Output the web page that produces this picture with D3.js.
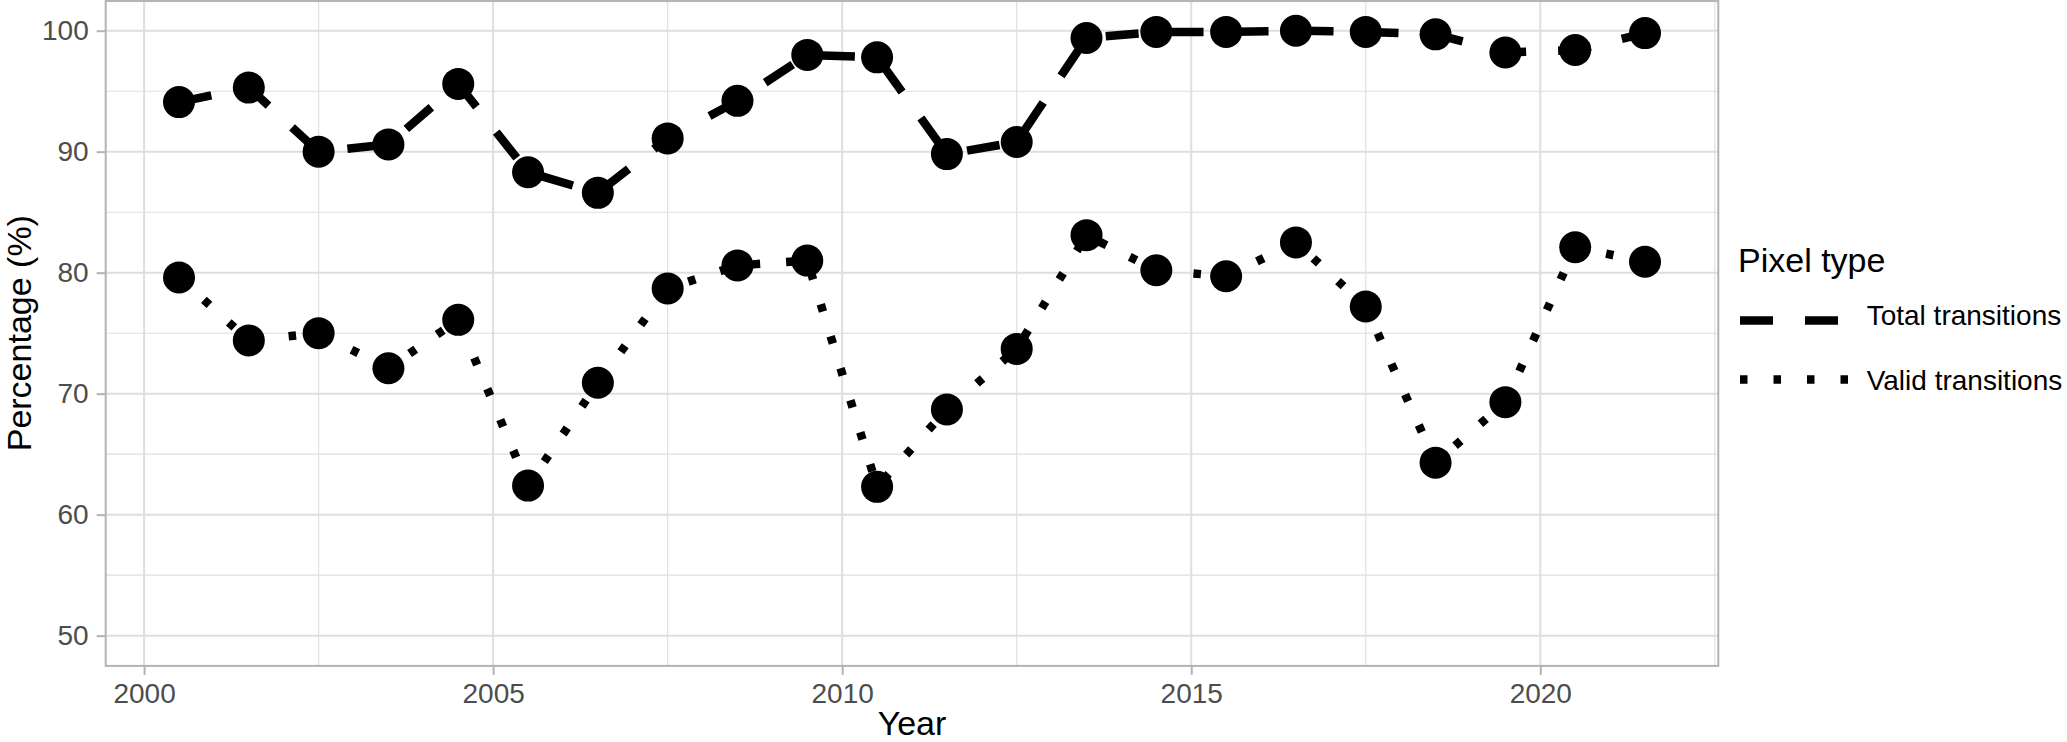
<!DOCTYPE html>
<html>
<head>
<meta charset="utf-8">
<script src="https://cdn.jsdelivr.net/npm/d3@7"></script>
<style>
  html, body { margin: 0; padding: 0; background: #fff; }
  svg { display: block; }
  text { font-family: "Liberation Sans", Arial, sans-serif; }
</style>
</head>
<body>
<svg id="chart" width="2067" height="742"></svg>
<script>
// ---- data ----
const years = [2000.5, 2001.5, 2002.5, 2003.5, 2004.5, 2005.5, 2006.5, 2007.5, 2008.5, 2009.5, 2010.5,
               2011.5, 2012.5, 2013.5, 2014.5, 2015.5, 2016.5, 2017.5, 2018.5, 2019.5, 2020.5, 2021.5];
const totalTransitions = [94.1, 95.3, 90.0, 90.6, 95.6, 88.3, 86.6, 91.1, 94.2, 98.0, 97.8,
                          89.8, 90.8, 99.4, 99.9, 99.9, 100.0, 99.9, 99.7, 98.2, 98.4, 99.8];
const validTransitions = [79.6, 74.4, 75.0, 72.1, 76.1, 62.4, 70.9, 78.7, 80.6, 81.0, 62.3,
                          68.7, 73.7, 83.1, 80.2, 79.7, 82.5, 77.2, 64.3, 69.3, 82.1, 80.9];
const seriesNames = ["Total transitions", "Valid transitions"];
const xTicks = [2000, 2005, 2010, 2015, 2020];
const yTicks = [50, 60, 70, 80, 90, 100];
const xMinor = [2002.5, 2007.5, 2012.5, 2017.5, 2022.5];
const yMinor = [55, 65, 75, 85, 95];
const xTitle = "Year";
const yTitle = "Percentage (%)";
const legendTitle = "Pixel type";

// ---- layout ----
const panel = { left: 105.7, right: 1718.3, top: 0.45, bottom: 665.9 };
const svg = d3.select("#chart");
svg.append("rect").attr("width", 2067).attr("height", 742).attr("fill", "#fff");

const xMin = d3.min(years), xMax = d3.max(years);
const xPad = (xMax - xMin) * 0.05;
const x = d3.scaleLinear().domain([xMin - xPad, xMax + xPad]).range([panel.left, panel.right]);
const y = d3.scaleLinear().domain([47.5, 102.5]).range([panel.bottom, panel.top]);

const gridCol = "#DEDEDE";
const g = svg.append("g");

// minor grid
g.selectAll(".ymin").data(yMinor).join("line")
  .attr("x1", panel.left).attr("x2", panel.right)
  .attr("y1", d => y(d)).attr("y2", d => y(d))
  .attr("stroke", gridCol).attr("stroke-width", 1.1);
g.selectAll(".xmin").data(xMinor.filter(d => x(d) < panel.right)).join("line")
  .attr("y1", panel.top).attr("y2", panel.bottom)
  .attr("x1", d => x(d)).attr("x2", d => x(d))
  .attr("stroke", gridCol).attr("stroke-width", 1.1);
// major grid
g.selectAll(".ymaj").data(yTicks).join("line")
  .attr("x1", panel.left).attr("x2", panel.right)
  .attr("y1", d => y(d)).attr("y2", d => y(d))
  .attr("stroke", gridCol).attr("stroke-width", 2);
g.selectAll(".xmaj").data(xTicks).join("line")
  .attr("y1", panel.top).attr("y2", panel.bottom)
  .attr("x1", d => x(d)).attr("x2", d => x(d))
  .attr("stroke", gridCol).attr("stroke-width", 2);

// axes
const axisCol = "#B3B3B3";
const xAxis = svg.append("g").attr("transform", `translate(0,${panel.bottom})`)
  .call(d3.axisBottom(x).tickValues(xTicks).tickFormat(d3.format("d")).tickSizeInner(9).tickSizeOuter(0).tickPadding(6));
const yAxis = svg.append("g").attr("transform", `translate(${panel.left},0)`)
  .call(d3.axisLeft(y).tickValues(yTicks).tickSizeInner(9).tickSizeOuter(0).tickPadding(8));
[xAxis, yAxis].forEach(a => {
  a.select(".domain").remove();
  a.selectAll(".tick line").attr("stroke", axisCol).attr("stroke-width", 2);
  a.selectAll(".tick text").attr("fill", "#4D4D4D").attr("font-size", 28)
    .attr("font-family", "'Liberation Sans', Arial, sans-serif");
});
xAxis.selectAll(".tick text").attr("dy", null).attr("y", 37.4);

// series
const series = [
  { name: seriesNames[0], values: totalTransitions, dash: "33,32" },
  { name: seriesNames[1], values: validTransitions, dash: "7.5,26" }
];
const line = d3.line().x(d => x(d[0])).y(d => y(d[1]));
series.forEach(s => {
  svg.append("path")
    .datum(years.map((yr, i) => [yr, s.values[i]]))
    .attr("d", line)
    .attr("fill", "none").attr("stroke", "#000").attr("stroke-width", 8.5)
    .attr("stroke-dasharray", s.dash).attr("stroke-linecap", "butt").attr("stroke-linejoin", "round");
});
series.forEach(s => {
  svg.append("g").selectAll("circle")
    .data(years.map((yr, i) => [yr, s.values[i]]))
    .join("circle")
    .attr("cx", d => x(d[0])).attr("cy", d => y(d[1])).attr("r", 16).attr("fill", "#000");
});

// panel border
svg.append("rect")
  .attr("x", panel.left).attr("y", panel.top + 0.6)
  .attr("width", panel.right - panel.left).attr("height", panel.bottom - panel.top - 0.6)
  .attr("fill", "none").attr("stroke", axisCol).attr("stroke-width", 2);

// axis titles
svg.append("text").attr("x", (panel.left + panel.right) / 2).attr("y", 735)
  .attr("text-anchor", "middle").attr("font-size", 34).attr("fill", "#000").text(xTitle);
svg.append("text").attr("transform", `translate(30.5,${(panel.top + panel.bottom) / 2}) rotate(-90)`)
  .attr("text-anchor", "middle").attr("font-size", 34).attr("fill", "#000").text(yTitle);

// legend
const leg = svg.append("g");
leg.append("text").attr("x", 1738).attr("y", 271.7).attr("font-size", 34).attr("fill", "#000").text(legendTitle);
const keyY = [320.5, 379.5];
const textY = [325, 390];
series.forEach((s, i) => {
  leg.append("line").attr("x1", 1740).attr("x2", 1853).attr("y1", keyY[i]).attr("y2", keyY[i])
    .attr("stroke", "#000").attr("stroke-width", 8.5).attr("stroke-dasharray", s.dash).attr("stroke-linecap", "butt");
  leg.append("text").attr("x", 1866.7).attr("y", textY[i]).attr("font-size", 28).attr("fill", "#000").text(s.name);
});
</script>
</body>
</html>
